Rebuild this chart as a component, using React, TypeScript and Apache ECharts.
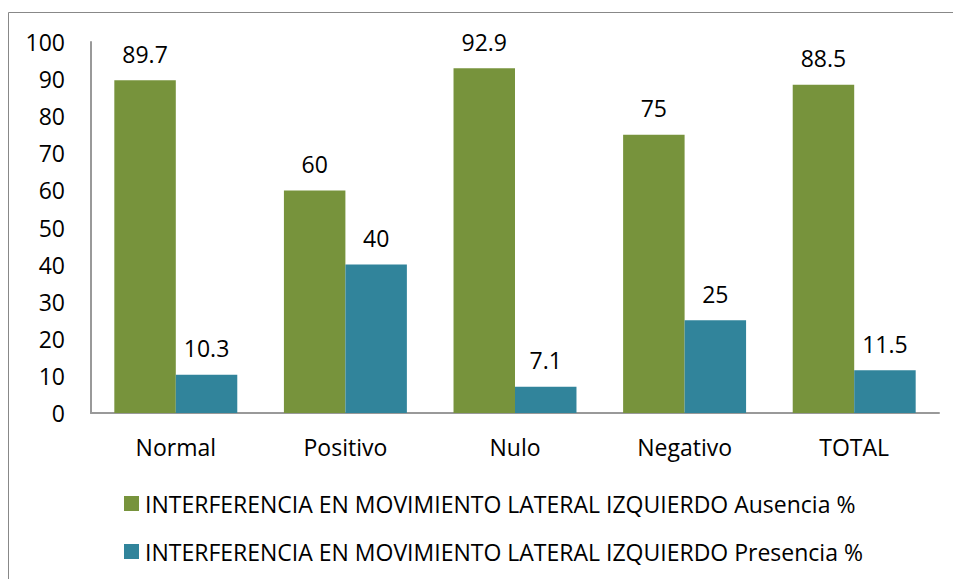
import React, { useEffect, useRef } from "react";
import * as echarts from "echarts";

const categories = ["Normal", "Positivo", "Nulo", "Negativo", "TOTAL"];
const ausencia = [89.7, 60, 92.9, 75, 88.5];
const presencia = [10.3, 40, 7.1, 25, 11.5];
const seriesNames = [
  "INTERFERENCIA EN MOVIMIENTO LATERAL IZQUIERDO Ausencia %",
  "INTERFERENCIA EN MOVIMIENTO LATERAL IZQUIERDO Presencia %",
];

const FONT = "Open Sans";
const FS = 23;

export default function App() {
  const ref = useRef<HTMLDivElement>(null);
  useEffect(() => {
    document.body.style.margin = "0";
    const chart = echarts.init(ref.current!, null, { renderer: "svg" });
    const label = {
      show: true,
      position: "top" as const,
      distance: 15,
      color: "#000",
      fontSize: FS,
      fontFamily: FONT,
    };
    chart.setOption({
      animation: false,
      backgroundColor: "#fff",
      textStyle: { fontFamily: FONT },
      grid: { left: 91, right: 14, top: 42, bottom: 166, containLabel: false },
      graphic: [
        {
          type: "rect",
          shape: { x: 8.5, y: 12.5, width: 1200, height: 1200 },
          style: { fill: "none", stroke: "#888", lineWidth: 1 },
          silent: true,
        },
      ],
      legend: {
        orient: "vertical",
        left: 119,
        top: 487,
        itemWidth: 15,
        itemHeight: 15,
        itemGap: 25,
        icon: "rect",
        textStyle: { fontSize: FS, color: "#000", fontFamily: FONT, padding: [0, 0, 0, 1] },
      },
      xAxis: {
        type: "category",
        data: categories,
        axisLine: { lineStyle: { color: "#999", width: 2 } },
        axisTick: { show: false },
        axisLabel: { fontSize: FS, color: "#000", margin: 22, fontFamily: FONT },
      },
      yAxis: {
        type: "value",
        min: 0,
        max: 100,
        interval: 10,
        axisLine: { show: true, lineStyle: { color: "#999", width: 2 } },
        axisTick: { show: false },
        splitLine: { show: false },
        axisLabel: { fontSize: FS, color: "#000", margin: 26, fontFamily: FONT },
      },
      series: [
        {
          name: seriesNames[0],
          type: "bar",
          data: ausencia,
          itemStyle: { color: "#77933C" },
          barGap: "0%",
          barCategoryGap: "27.5%",
          label,
        },
        {
          name: seriesNames[1],
          type: "bar",
          data: presencia,
          itemStyle: { color: "#31849B" },
          label,
        },
      ],
    });
    return () => chart.dispose();
  }, []);
  return <div ref={ref} style={{ width: 953, height: 579 }} />;
}
